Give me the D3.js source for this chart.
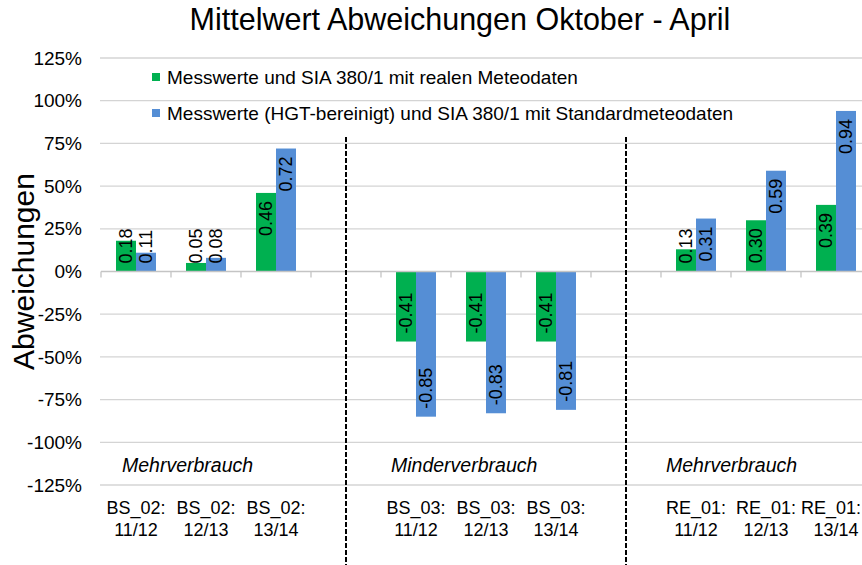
<!DOCTYPE html>
<html>
<head>
<meta charset="utf-8">
<script src="https://cdn.jsdelivr.net/npm/d3@7"></script>
<style>
  html, body { margin: 0; padding: 0; background: #fff; overflow: hidden; }
  svg { display: block; font-family: "Liberation Sans", Arial, sans-serif; }
</style>
</head>
<body>
<svg id="chart" width="862" height="565"></svg>
<script>
// Categories; the blank entries are spacer slots between the three buildings
const categories = [
  "BS_02: 11/12", "BS_02: 12/13", "BS_02: 13/14", "gap-1",
  "BS_03: 11/12", "BS_03: 12/13", "BS_03: 13/14", "gap-2",
  "RE_01: 11/12", "RE_01: 12/13", "RE_01: 13/14"
];
const spacers = ["gap-1", "gap-2"];

// Mean deviation, October to April (fraction)
const realMeteo     = [0.18, 0.05, 0.46, null, -0.41, -0.41, -0.41, null, 0.13, 0.30, 0.39];
const standardMeteo = [0.11, 0.08, 0.72, null, -0.85, -0.83, -0.81, null, 0.31, 0.59, 0.94];

const seriesNames = [
  "Messwerte und SIA 380/1 mit realen Meteodaten",
  "Messwerte (HGT-bereinigt) und SIA 380/1 mit Standardmeteodaten"
];
const seriesColors = ["#00B050", "#558ED5"];

const yTicks = [1.25, 1.0, 0.75, 0.5, 0.25, 0, -0.25, -0.5, -0.75, -1.0, -1.25];

const groupLabels = ["Mehrverbrauch", "Minderverbrauch", "Mehrverbrauch"];
const groupFirstCategory = ["BS_02: 11/12", "BS_03: 11/12", "RE_01: 11/12"];

const titleText = "Mittelwert Abweichungen Oktober - April";
const yTitleText = "Abweichungen";

// number formats with a plain hyphen as minus sign
const locale = d3.formatLocale({ decimal: ".", thousands: "", grouping: [3], currency: ["", ""], minus: "-" });
const pct = locale.format(".0%");
const num = locale.format(".2f");

// ---- layout ----
const W = 862;
const svg = d3.select("#chart");
const plot = { left: 101, right: 871, top: 58, bottom: 485 };

const x = d3.scaleBand().domain(categories).range([plot.left, plot.right]).padding(0);
const xs = d3.scaleBand().domain([0, 1]).range([0, x.bandwidth()]).paddingInner(0).paddingOuter(0.75);
const y = d3.scaleLinear().domain([-1.25, 1.25]).range([plot.bottom, plot.top]);

// gridlines
svg.append("g")
  .selectAll("line")
  .data(yTicks.filter(d => d !== 0))
  .join("line")
  .attr("x1", plot.left - 1).attr("x2", W)
  .attr("y1", d => y(d)).attr("y2", d => y(d))
  .attr("stroke", "#d4d4d4").attr("stroke-width", 1.3);

// y tick labels
svg.append("g")
  .selectAll("text")
  .data(yTicks)
  .join("text")
  .attr("x", 82).attr("y", d => y(d))
  .attr("dy", "0.35em")
  .attr("text-anchor", "end")
  .attr("font-size", 19)
  .attr("fill", "#000")
  .text(d => pct(d));

// bars
const series = [realMeteo, standardMeteo];
const barG = svg.append("g");
series.forEach((vals, si) => {
  barG.selectAll(null)
    .data(vals.map((v, i) => ({ v, c: categories[i] })).filter(d => d.v !== null))
    .join("rect")
    .attr("x", d => x(d.c) + xs(si))
    .attr("width", xs.bandwidth())
    .attr("y", d => y(Math.max(0, d.v)))
    .attr("height", d => Math.abs(y(d.v) - y(0)))
    .attr("fill", seriesColors[si]);
});

// zero axis with category ticks
svg.append("line")
  .attr("x1", plot.left).attr("x2", W)
  .attr("y1", y(0)).attr("y2", y(0))
  .attr("stroke", "#c4c4c4").attr("stroke-width", 1.3);
svg.append("g")
  .selectAll("line")
  .data(categories)
  .join("line")
  .attr("x1", d => x(d)).attr("x2", d => x(d))
  .attr("y1", y(0)).attr("y2", y(0) + 6)
  .attr("stroke", "#c4c4c4").attr("stroke-width", 1.3);

// value labels, rotated, placed at the inside end of each bar
const labelG = svg.append("g");
series.forEach((vals, si) => {
  vals.forEach((v, i) => {
    if (v === null) return;
    const cx = x(categories[i]) + xs(si) + xs.bandwidth() / 2;
    const t = labelG.append("text")
      .attr("font-size", 18)
      .attr("fill", "#000")
      .attr("dy", "0.35em")
      .attr("text-anchor", "start")
      .text(num(v));
    const len = t.node().getComputedTextLength();
    let ys;
    if (v >= 0) {
      ys = Math.min(y(v) + 8 + len, y(0) - 8);
    } else {
      ys = Math.max(y(v) - 8, y(0) + 8 + len);
    }
    t.attr("transform", `translate(${cx},${ys}) rotate(-90)`);
  });
});

// dashed separators in the spacer slots
svg.append("g")
  .selectAll("line")
  .data(spacers)
  .join("line")
  .attr("x1", d => x(d) + x.bandwidth() / 2).attr("x2", d => x(d) + x.bandwidth() / 2)
  .attr("y1", 137).attr("y2", 565)
  .attr("stroke", "#000").attr("stroke-width", 2)
  .attr("stroke-dasharray", "5,2");

// group labels
const groupDx = [21, 10, 5];
svg.append("g")
  .selectAll("text")
  .data(groupLabels)
  .join("text")
  .attr("x", (d, i) => x(groupFirstCategory[i]) + groupDx[i])
  .attr("y", 472)
  .attr("font-size", 19.5)
  .attr("font-style", "italic")
  .attr("fill", "#000")
  .text(d => d);

// category labels (two lines), kept inside the right edge
const catG = svg.append("g")
  .selectAll("text")
  .data(categories.filter(c => !spacers.includes(c)))
  .join("text")
  .attr("text-anchor", "middle")
  .attr("font-size", 18)
  .attr("fill", "#000");
catG.each(function (d) {
  const parts = d.split(" ");
  const cx = x(d) + x.bandwidth() / 2;
  [parts[0], parts[1]].forEach((line, li) => {
    const ts = d3.select(this).append("tspan")
      .attr("x", cx).attr("y", 514 + li * 22).text(line);
    const half = ts.node().getComputedTextLength() / 2;
    if (cx + half > W - 1) ts.attr("x", W - 1 - half);
  });
});

// legend
const legend = svg.append("g");
seriesNames.forEach((name, i) => {
  const ly = 77 + i * 36;
  legend.append("rect")
    .attr("x", 152).attr("y", ly - 4).attr("width", 8).attr("height", 8)
    .attr("fill", seriesColors[i]);
  legend.append("text")
    .attr("x", 167).attr("y", ly).attr("dy", "0.35em")
    .attr("font-size", 19).attr("fill", "#000")
    .text(name);
});

// title
svg.append("text")
  .attr("x", 460).attr("y", 30)
  .attr("text-anchor", "middle")
  .attr("font-size", 30.5)
  .attr("fill", "#000")
  .text(titleText);

// y axis title
svg.append("text")
  .attr("transform", `translate(34,${y(0)}) rotate(-90)`)
  .attr("text-anchor", "middle")
  .attr("font-size", 30)
  .attr("fill", "#000")
  .text(yTitleText);
</script>
</body>
</html>
